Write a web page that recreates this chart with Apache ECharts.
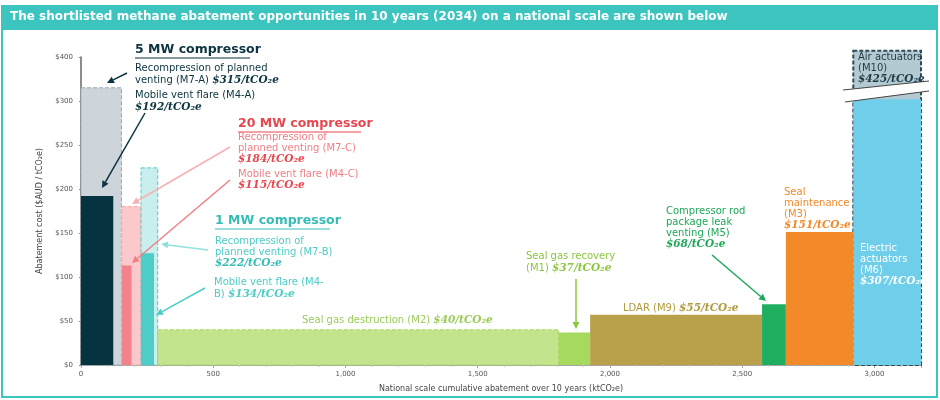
<!DOCTYPE html>
<html>
<head>
<meta charset="utf-8">
<script src="https://cdn.jsdelivr.net/npm/echarts@6/dist/echarts.min.js"></script>
<style>
  html, body { margin: 0; padding: 0; background: #fff; }
  #chart { width: 940px; height: 400px; }
</style>
</head>
<body>
<div id="chart"></div>
<script>
// Abatement options: cumulative start/end (ktCO2e) and cost ($/tCO2e)
const names  = ['M7-A', 'M4-A', 'M7-C', 'M4-C', 'M7-B', 'M4-B', 'M2', 'M1', 'M9', 'M5', 'M3', 'M10', 'M6'];
const starts = [0, 0, 154, 154, 227, 227, 290, 1805, 1925, 2575, 2665, 2920, 2920];
const ends   = [153, 122, 227, 191, 290, 276, 1805, 1925, 2575, 2665, 2920, 3176, 3176];
const costs  = [315, 192, 180, 113, 224, 127, 40, 37, 57, 69, 151, 357, 302];
const fills  = ['#cdd4da', '#063340', '#fbc8cb', '#f4828a', '#c9eeee', '#4ecdc6', '#c3e48d', '#a5da5f', '#b8a14a', '#1fad5f', '#f28a2a', '#b3cad3', '#6fcfea'];
const borders = ['#9aa8b2', null, '#f4a9ae', null, '#4ecdc6', null, '#a5da5f', null, null, null, null, '#2d4b57', null];

const yTicks = [0, 50, 100, 150, 200, 250, 300, 350];
const yTickLabels = ['$0', '$50', '$100', '$150', '$200', '$250', '$300', '$400'];

const chart = echarts.init(document.getElementById('chart'));
const FONT = 'DejaVu Sans';

function txt(x, y, parts, size) {
  // parts: [[text, style]] style: n normal, b bold italic
  return {
    type: 'text', left: x, top: y, z: 50,
    style: {
      text: parts.map(p => '{' + p[1] + '|' + p[0] + '}').join(''),
      rich: {
        n: { fontFamily: FONT, fontSize: size || 10, fill: txt.color },
        b: { fontFamily: 'DejaVu Serif', fontSize: (size || 10) + 0.5, fontWeight: 'bold', fontStyle: 'italic', fill: txt.color },
        h: { fontFamily: FONT, fontSize: 12.5, fontWeight: 'bold', fill: txt.color }
      }
    }
  };
}
function tc(color, x, y, parts, size) { txt.color = color; return txt(x, y, parts, size); }
function arrow(x1, y1, x2, y2, color) {
  const a = Math.atan2(y2 - y1, x2 - x1), L = 7, W = 3.5;
  const bx = x2 - L * Math.cos(a), by = y2 - L * Math.sin(a);
  return [
    { type: 'line', z: 40, shape: { x1, y1, x2: bx, y2: by }, style: { stroke: color, lineWidth: 1.5 } },
    { type: 'polygon', z: 40, shape: { points: [[x2, y2], [bx - W * Math.sin(a), by + W * Math.cos(a)], [bx + W * Math.sin(a), by - W * Math.cos(a)]] }, style: { fill: color } }
  ];
}
function underline(x, y, w, color) {
  return { type: 'line', z: 50, shape: { x1: x, y1: y, x2: x + w, y2: y }, style: { stroke: color, lineWidth: 1.2 } };
}

const dark = '#0b3440', red = '#e8474f', pinkT = '#f07f86', teal = '#35bdb5', tealL = '#4ecdc6';
const graphics = [
  { type: 'rect', z: 0, shape: { x: 2, y: 6, width: 935, height: 391 }, style: { fill: 'none', stroke: '#3cc4be', lineWidth: 2 } },
  { type: 'rect', z: 1, shape: { x: 2, y: 6, width: 935, height: 24 }, style: { fill: '#3cc4be' } },
  { type: 'text', left: 10, top: 11, z: 2, style: { text: 'The shortlisted methane abatement opportunities in 10 years (2034) on a national scale are shown below', fontFamily: FONT, fontSize: 12, fontWeight: 'bold', fill: '#fff' } },

  tc(dark, 135, 43, [['5 MW compressor', 'h']]),
  underline(135, 58, 115, dark),
  tc(dark, 135, 63, [['Recompression of planned', 'n']]),
  tc(dark, 135, 75, [['venting (M7-A) ', 'n'], ['$315/tCO₂e', 'b']]),
  tc(dark, 135, 90, [['Mobile vent flare (M4-A)', 'n']]),
  tc(dark, 135, 102, [['$192/tCO₂e', 'b']]),

  tc(red, 238, 117, [['20 MW compressor', 'h']]),
  underline(238, 132, 123, red),
  tc(pinkT, 238, 132, [['Recompression of', 'n']]),
  tc(pinkT, 238, 143, [['planned venting (M7-C)', 'n']]),
  tc(red, 238, 154, [['$184/tCO₂e', 'b']]),
  tc(pinkT, 238, 169, [['Mobile vent flare (M4-C)', 'n']]),
  tc(red, 238, 180, [['$115/tCO₂e', 'b']]),

  tc(teal, 215, 214, [['1 MW compressor', 'h']]),
  underline(215, 229, 115, teal),
  tc(tealL, 215, 236, [['Recompression of', 'n']]),
  tc(tealL, 215, 247, [['planned venting (M7-B)', 'n']]),
  tc(teal, 215, 258, [['$222/tCO₂e', 'b']]),
  tc(tealL, 214, 277, [['Mobile vent flare (M4-', 'n']]),
  tc(tealL, 214, 289, [['B) ', 'n'], ['$134/tCO₂e', 'b']]),

  tc('#9ccb5a', 302, 315, [['Seal gas destruction (M2) ', 'n'], ['$40/tCO₂e', 'b']]),
  tc('#8cc63f', 526, 251, [['Seal gas recovery', 'n']]),
  tc('#8cc63f', 526, 263, [['(M1) ', 'n'], ['$37/tCO₂e', 'b']]),
  tc('#b09a3e', 623, 303, [['LDAR (M9) ', 'n'], ['$55/tCO₂e', 'b']]),
  tc('#1ea85a', 666, 206, [['Compressor rod', 'n']]),
  tc('#1ea85a', 666, 217, [['package leak', 'n']]),
  tc('#1ea85a', 666, 228, [['venting (M5)', 'n']]),
  tc('#1ea85a', 666, 239, [['$68/tCO₂e', 'b']]),
  tc('#f0892a', 784, 187, [['Seal', 'n']]),
  tc('#f0892a', 784, 198, [['maintenance', 'n']]),
  tc('#f0892a', 784, 209, [['(M3)', 'n']]),
  tc('#f0892a', 784, 220, [['$151/tCO₂e', 'b']]),
  tc('#ffffff', 860, 243, [['Electric', 'n']]),
  tc('#ffffff', 860, 254, [['actuators', 'n']]),
  tc('#ffffff', 860, 265, [['(M6)', 'n']]),
  tc('#ffffff', 860, 276, [['$307/tCO₂e', 'b']]),
  tc('#1e3a46', 858, 52, [['Air actuators', 'n']]),
  tc('#1e3a46', 858, 63, [['(M10)', 'n']]),
  tc('#1e3a46', 858, 74, [['$425/tCO₂e', 'b']]),

  // axis break across M10/M6
  { type: 'polygon', z: 30, shape: { points: [[843, 90], [929, 81], [929, 91], [845, 102]] }, style: { fill: '#fff' } },
  { type: 'line', z: 31, shape: { x1: 843, y1: 90, x2: 929, y2: 81 }, style: { stroke: '#444', lineWidth: 1 } },
  { type: 'line', z: 31, shape: { x1: 845, y1: 102, x2: 929, y2: 91 }, style: { stroke: '#444', lineWidth: 1 } }
]
  .concat(arrow(127, 73, 107, 83, dark))
  .concat(arrow(145, 113, 102, 188, dark))
  .concat(arrow(230, 147, 132, 204, '#f7b0b4'))
  .concat(arrow(230, 180, 132, 263, '#f07f86'))
  .concat(arrow(208, 250, 161, 244, '#8fe0dc'))
  .concat(arrow(205, 288, 156, 315, tealL))
  .concat(arrow(576, 279, 576, 329, '#8cc63f'))
  .concat(arrow(712, 255, 766, 301, '#1ea85a'));

const barData = names.map((n, i) => [starts[i], ends[i], costs[i], i]);

chart.setOption({
  animation: false,
  textStyle: { fontFamily: FONT },
  grid: { left: 81, right: 19, top: 57, bottom: 35 },
  xAxis: {
    type: 'value', min: 0, max: 3176, interval: 500,
    name: 'National scale cumulative abatement over 10 years (ktCO₂e)',
    nameLocation: 'middle', nameGap: 20,
    nameTextStyle: { fontSize: 8, color: '#444' },
    axisLine: { lineStyle: { color: '#888', width: 1.5 } },
    axisTick: { show: true, length: 3, lineStyle: { color: '#aaa' } },
    minorTick: { show: true, splitNumber: 5, length: 2, lineStyle: { color: '#ccc' } },
    splitLine: { show: false },
    axisLabel: { fontSize: 7, color: '#555', margin: 6, formatter: v => v.toLocaleString('en-US'), showMaxLabel: false }
  },
  yAxis: {
    type: 'value', min: 0, max: 350, interval: 50,
    name: 'Abatement cost ($AUD / tCO₂e)',
    nameLocation: 'middle', nameGap: 35, nameRotate: 90,
    nameTextStyle: { fontSize: 8, color: '#444' },
    axisLine: { show: true, lineStyle: { color: '#666', width: 1.5 } },
    axisTick: { show: true, length: 2, lineStyle: { color: '#888' } },
    splitLine: { show: false },
    axisLabel: { fontSize: 7, color: '#555', formatter: v => yTickLabels[yTicks.indexOf(v)] }
  },
  graphic: graphics,
  series: [{
    type: 'custom',
    clip: false,
    data: barData,
    encode: { x: [0, 1], y: 2 },
    renderItem: (params, api) => {
      const i = api.value(3);
      const p0 = api.coord([api.value(0), 0]);
      const p1 = api.coord([api.value(1), api.value(2)]);
      const b = borders[i];
      return {
        type: 'rect',
        z2: b ? 1 : 5,
        shape: { x: p0[0], y: p1[1], width: p1[0] - p0[0], height: p0[1] - p1[1] },
        style: b ? { fill: fills[i], stroke: b, lineWidth: i === 11 ? 2 : 1, lineDash: [4, 2] } : { fill: fills[i] }
      };
    }
  }]
});
</script>
</body>
</html>
